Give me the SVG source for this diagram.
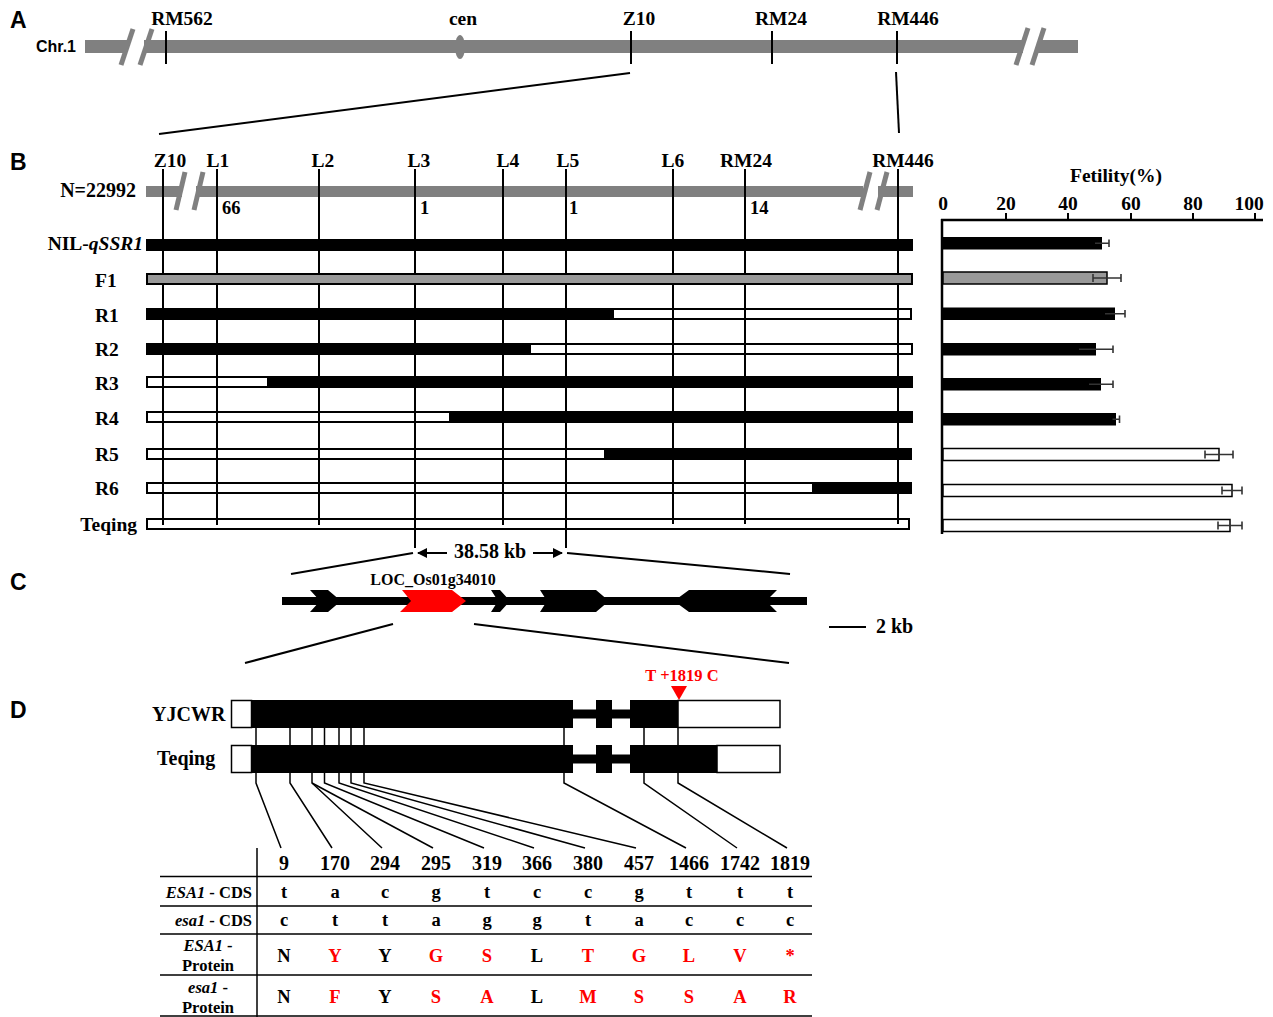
<svg xmlns="http://www.w3.org/2000/svg" width="1273" height="1017" viewBox="0 0 1273 1017">
<style>
.t{font-family:"Liberation Serif","Times New Roman",serif;font-weight:bold;fill:#000}
.s{font-family:"Liberation Sans",Arial,sans-serif;font-weight:bold;fill:#000}
.red{fill:#ff0000}
.k{stroke:#000;stroke-width:2;fill:none}
.g{fill:#808080}
.brk{stroke:#808080;stroke-width:5;fill:none}
.wb{fill:#fff;stroke:#000;stroke-width:2}
.eb{stroke:#333;stroke-width:1.6;fill:none}
.tl{stroke:#000;stroke-width:1.5;fill:none}
</style>
<defs>
<marker id="ah" markerWidth="10" markerHeight="10" refX="9" refY="5" orient="auto" markerUnits="userSpaceOnUse"><path d="M0,0 L10,5 L0,10 z" fill="#000"/></marker>
</defs>

<!-- Panel A -->
<g id="panelA">
<text class="s" x="10" y="28" font-size="23">A</text>
<text class="s" x="36" y="52" font-size="16">Chr.1</text>
<rect class="g" x="85" y="40" width="42" height="13"/>
<rect class="g" x="144" y="40" width="879" height="13"/>
<rect class="g" x="1038" y="40" width="40" height="13"/>
<line class="brk" x1="133" y1="29" x2="121" y2="65"/>
<line class="brk" x1="152" y1="29" x2="140" y2="65"/>
<line class="brk" x1="1028" y1="28" x2="1016" y2="65"/>
<line class="brk" x1="1044" y1="28" x2="1032" y2="65"/>
<ellipse class="g" cx="460" cy="47" rx="5" ry="12"/>
<line class="k" x1="166" y1="31" x2="166" y2="64"/>
<line class="k" x1="631" y1="31" x2="631" y2="64"/>
<line class="k" x1="772" y1="31" x2="772" y2="64"/>
<line class="k" x1="897" y1="31" x2="897" y2="64"/>
<text class="t" x="182" y="25" font-size="19.5" text-anchor="middle">RM562</text>
<text class="t" x="463" y="25" font-size="19.5" text-anchor="middle">cen</text>
<text class="t" x="639" y="25" font-size="19.5" text-anchor="middle">Z10</text>
<text class="t" x="781" y="25" font-size="19.5" text-anchor="middle">RM24</text>
<text class="t" x="908" y="25" font-size="19.5" text-anchor="middle">RM446</text>
</g>

<!-- Panel B map -->
<g id="panelB">
<text class="s" x="10" y="170" font-size="23">B</text>
<text class="t" x="170" y="167" font-size="19.5" text-anchor="middle">Z10</text>
<text class="t" x="218" y="167" font-size="19.5" text-anchor="middle">L1</text>
<text class="t" x="323" y="167" font-size="19.5" text-anchor="middle">L2</text>
<text class="t" x="419" y="167" font-size="19.5" text-anchor="middle">L3</text>
<text class="t" x="508" y="167" font-size="19.5" text-anchor="middle">L4</text>
<text class="t" x="568" y="167" font-size="19.5" text-anchor="middle">L5</text>
<text class="t" x="673" y="167" font-size="19.5" text-anchor="middle">L6</text>
<text class="t" x="746" y="167" font-size="19.5" text-anchor="middle">RM24</text>
<text class="t" x="903" y="167" font-size="19.5" text-anchor="middle">RM446</text>
<text class="t" x="136" y="197" font-size="20" text-anchor="end">N=22992</text>
<rect class="g" x="146" y="186" width="36" height="11"/>
<rect class="g" x="196" y="186" width="667" height="11"/>
<rect class="g" x="878" y="186" width="35" height="11"/>
<line class="brk" x1="185" y1="172" x2="176" y2="210"/>
<line class="brk" x1="203" y1="172" x2="194" y2="210"/>
<line class="brk" x1="870" y1="172" x2="860" y2="210"/>
<line class="brk" x1="887" y1="172" x2="877" y2="210"/>
<text class="t" x="222" y="214" font-size="18.5">66</text>
<text class="t" x="420" y="214" font-size="18.5">1</text>
<text class="t" x="569" y="214" font-size="18.5">1</text>
<text class="t" x="750" y="214" font-size="18.5">14</text>

<text class="t" x="143" y="250" font-size="19.5" text-anchor="end">NIL-<tspan font-style="italic">qSSR1</tspan></text>
<text class="t" x="95" y="287" font-size="19.5">F1</text>
<text class="t" x="95" y="322" font-size="19.5">R1</text>
<text class="t" x="95" y="356" font-size="19.5">R2</text>
<text class="t" x="95" y="390" font-size="19.5">R3</text>
<text class="t" x="95" y="425" font-size="19.5">R4</text>
<text class="t" x="95" y="461" font-size="19.5">R5</text>
<text class="t" x="95" y="495" font-size="19.5">R6</text>
<text class="t" x="137" y="531" font-size="19.5" text-anchor="end">Teqing</text>

<g id="rows-white">
<rect class="wb" x="147" y="309" width="764" height="10"/>
<rect class="wb" x="147" y="344" width="765" height="10"/>
<rect class="wb" x="147" y="377" width="765" height="10"/>
<rect class="wb" x="147" y="412" width="765" height="10"/>
<rect class="wb" x="147" y="449" width="764" height="10"/>
<rect class="wb" x="147" y="483" width="764" height="10"/>
<rect class="wb" x="147" y="519" width="762" height="10"/>
</g>
</g>

<g id="connectors">
<line class="k" x1="630" y1="73" x2="159" y2="134"/>
<line class="k" x1="896" y1="72" x2="899" y2="133"/>
<line class="k" x1="163" y1="169" x2="163" y2="525"/>
<line class="k" x1="217" y1="169" x2="217" y2="525"/>
<line class="k" x1="319" y1="169" x2="319" y2="525"/>
<line class="k" x1="415" y1="169" x2="415" y2="548"/>
<line class="k" x1="503" y1="169" x2="503" y2="525"/>
<line class="k" x1="566" y1="169" x2="566" y2="548"/>
<line class="k" x1="673" y1="169" x2="673" y2="524"/>
<line class="k" x1="745" y1="169" x2="745" y2="524"/>
<line class="k" x1="898" y1="169" x2="898" y2="524"/>
<!-- B to C -->
<line class="k" x1="413" y1="553" x2="291" y2="574"/>
<line class="k" x1="567" y1="553" x2="790" y2="574"/>
<!-- C to D -->
<line class="k" x1="393" y1="624" x2="245" y2="663"/>
<line class="k" x1="474" y1="624" x2="789" y2="663"/>
<!-- D gene connectors -->
<g class="tl">
<path d="M256 727V746M256 773V783L281 848"/>
<path d="M290 727V746M290 773V783L332 848"/>
<path d="M312 727V746M312 773V783L382 848"/>
<path d="M312 783L433 848"/>
<path d="M324.5 727V746M324.5 773V783L484 848"/>
<path d="M339 727V746M339 773V783L534 848"/>
<path d="M351 727V746M351 773V783L585 848"/>
<path d="M364 727V746M364 773V783L636 848"/>
<path d="M564 727V746M564 773V783L686 848"/>
<path d="M644 727V746M644 773V783L737 848"/>
<path d="M678 727V746M678 773V783L787 848"/>
</g>
</g>

<g id="rows-fill">
<rect x="146" y="239" width="767" height="12" fill="#000"/>
<rect x="147" y="274" width="765" height="10" fill="#999" stroke="#000" stroke-width="2"/>
<rect x="146" y="308" width="437" height="12" fill="#000"/>
<rect x="583" y="308" width="31" height="11" fill="#000"/>
<rect x="146" y="343" width="327" height="12" fill="#000"/>
<rect x="473" y="343" width="58" height="11" fill="#000"/>
<rect x="267" y="376" width="646" height="12" fill="#000"/>
<rect x="449" y="411" width="464" height="12" fill="#000"/>
<rect x="604" y="448" width="308" height="12" fill="#000"/>
<rect x="812" y="482" width="100" height="12" fill="#000"/>
</g>

<!-- Bar chart -->
<g id="chart">
<text class="t" x="1116" y="182" font-size="19.5" text-anchor="middle">Fetility(%)</text>
<g font-size="19.5" text-anchor="middle">
<text class="t" x="943" y="210">0</text>
<text class="t" x="1006" y="210">20</text>
<text class="t" x="1068" y="210">40</text>
<text class="t" x="1131" y="210">60</text>
<text class="t" x="1193" y="210">80</text>
<text class="t" x="1249" y="210">100</text>
</g>
<line x1="941" y1="220" x2="1263" y2="220" stroke="#000" stroke-width="2.5"/>
<line x1="942" y1="219" x2="942" y2="534" stroke="#000" stroke-width="2.5"/>
<path d="M1006 220V213M1068 220V213M1131 220V213M1193 220V213M1255 220V213" class="k"/>
<rect x="943" y="237" width="159" height="12.5" fill="#000"/>
<rect x="943" y="272" width="164" height="12" fill="#999" stroke="#000" stroke-width="1.5"/>
<rect x="943" y="307.5" width="172" height="12.5" fill="#000"/>
<rect x="943" y="343" width="153" height="12.5" fill="#000"/>
<rect x="943" y="378" width="158" height="12.5" fill="#000"/>
<rect x="943" y="413" width="173" height="12.5" fill="#000"/>
<rect x="943" y="448.5" width="276" height="12" fill="#fff" stroke="#000" stroke-width="1.5"/>
<rect x="943" y="484.5" width="289" height="12" fill="#fff" stroke="#000" stroke-width="1.5"/>
<rect x="943" y="519.5" width="287" height="12" fill="#fff" stroke="#000" stroke-width="1.5"/>
<g class="eb">
<path d="M1095 243.2H1109M1109 239.5V247"/>
<path d="M1093 278H1121M1093 274V282M1121 274V282"/>
<path d="M1105 313.7H1125M1125 310V317.5"/>
<path d="M1079 349.2H1113M1113 345.5V353"/>
<path d="M1089 384.2H1113M1113 380.5V388"/>
<path d="M1112.5 419.2H1119.5M1119.5 415.5V423"/>
<path d="M1205 454.5H1233M1205 450.5V458.5M1233 450.5V458.5"/>
<path d="M1222 490.5H1242M1222 486.5V494.5M1242 486.5V494.5"/>
<path d="M1218 525.5H1242M1218 521.5V529.5M1242 521.5V529.5"/>
</g>
</g>

<!-- Panel C -->
<g id="panelC">
<text class="s" x="10" y="590" font-size="23">C</text>
<line class="k" x1="447" y1="553" x2="418" y2="553" marker-end="url(#ah)"/>
<line class="k" x1="533" y1="553" x2="562" y2="553" marker-end="url(#ah)"/>
<text class="t" x="490" y="558" font-size="20" text-anchor="middle">38.58 kb</text>
<line x1="282" y1="601" x2="807" y2="601" stroke="#000" stroke-width="8"/>
<polygon points="310,590 328,590 341,601 328,612 310,612 320,601" fill="#000"/>
<polygon points="402,590 452,590 466,601 452,612 400,612 411,601" fill="#ff0000"/>
<polygon points="491,590 500,590 510,601 500,612 491,612 498,601" fill="#000"/>
<polygon points="540,590 596,590 609,601 596,612 540,612 547,601" fill="#000"/>
<polygon points="674,601 689,590 777,590 766,601 777,612 689,612" fill="#000"/>
<text class="t" x="433" y="585" font-size="16" text-anchor="middle">LOC_Os01g34010</text>
<line class="k" x1="829" y1="627" x2="866" y2="627"/>
<text class="t" x="876" y="633" font-size="20">2 kb</text>
</g>

<!-- Panel D -->
<g id="panelD">
<text class="s" x="10" y="718" font-size="23">D</text>
<text class="t" x="152" y="721" font-size="20">YJCWR</text>
<text class="t" x="157" y="765" font-size="20">Teqing</text>
<text class="t red" x="682" y="681" font-size="16.5" text-anchor="middle">T +1819 C</text>
<polygon points="671,686 687,686 679,700" fill="#ff0000"/>
<g id="yjcwr">
<rect x="231.5" y="700.5" width="20" height="27" fill="#fff" stroke="#000" stroke-width="1.5"/>
<rect x="678" y="700.5" width="102" height="27" fill="#fff" stroke="#000" stroke-width="1.5"/>
<rect x="251" y="700" width="322" height="28" fill="#000"/>
<rect x="573" y="709.5" width="57" height="9" fill="#000"/>
<rect x="596" y="700" width="16" height="28" fill="#000"/>
<rect x="630" y="700" width="48" height="28" fill="#000"/>
</g>
<g id="teqing">
<rect x="231.5" y="745.5" width="20" height="27" fill="#fff" stroke="#000" stroke-width="1.5"/>
<rect x="717" y="745.5" width="63" height="27" fill="#fff" stroke="#000" stroke-width="1.5"/>
<rect x="251" y="745" width="322" height="28" fill="#000"/>
<rect x="573" y="754.5" width="57" height="9" fill="#000"/>
<rect x="596" y="745" width="16" height="28" fill="#000"/>
<rect x="630" y="745" width="87" height="28" fill="#000"/>
</g>
</g>

<!-- Table -->
<g id="table">
<line class="tl" x1="257" y1="848" x2="257" y2="1017"/>
<path class="tl" d="M160 876.5H812M160 906H812M160 934H812M160 975H812M160 1016H812"/>
<g class="t" font-size="20" text-anchor="middle">
<text x="284" y="870">9</text><text x="335" y="870">170</text><text x="385" y="870">294</text><text x="436" y="870">295</text><text x="487" y="870">319</text><text x="537" y="870">366</text><text x="588" y="870">380</text><text x="639" y="870">457</text><text x="689" y="870">1466</text><text x="740" y="870">1742</text><text x="790" y="870">1819</text>
</g>
<g class="t" font-size="18.5" text-anchor="middle">
<text x="284" y="898">t</text><text x="335" y="898">a</text><text x="385" y="898">c</text><text x="436" y="898">g</text><text x="487" y="898">t</text><text x="537" y="898">c</text><text x="588" y="898">c</text><text x="639" y="898">g</text><text x="689" y="898">t</text><text x="740" y="898">t</text><text x="790" y="898">t</text>
<text x="284" y="926">c</text><text x="335" y="926">t</text><text x="385" y="926">t</text><text x="436" y="926">a</text><text x="487" y="926">g</text><text x="537" y="926">g</text><text x="588" y="926">t</text><text x="639" y="926">a</text><text x="689" y="926">c</text><text x="740" y="926">c</text><text x="790" y="926">c</text>
<text x="284" y="962">N</text><text class="t red" x="335" y="962">Y</text><text x="385" y="962">Y</text><text class="t red" x="436" y="962">G</text><text class="t red" x="487" y="962">S</text><text x="537" y="962">L</text><text class="t red" x="588" y="962">T</text><text class="t red" x="639" y="962">G</text><text class="t red" x="689" y="962">L</text><text class="t red" x="740" y="962">V</text><text class="t red" x="790" y="962">*</text>
<text x="284" y="1003">N</text><text class="t red" x="335" y="1003">F</text><text x="385" y="1003">Y</text><text class="t red" x="436" y="1003">S</text><text class="t red" x="487" y="1003">A</text><text x="537" y="1003">L</text><text class="t red" x="588" y="1003">M</text><text class="t red" x="639" y="1003">S</text><text class="t red" x="689" y="1003">S</text><text class="t red" x="740" y="1003">A</text><text class="t red" x="790" y="1003">R</text>
</g>
<g class="t" font-size="16.5">
<text x="252" y="898" text-anchor="end"><tspan font-style="italic">ESA1</tspan> - CDS</text>
<text x="252" y="926" text-anchor="end"><tspan font-style="italic">esa1</tspan>  - CDS</text>
<text x="208" y="951" text-anchor="middle"><tspan font-style="italic">ESA1</tspan> -</text>
<text x="208" y="971" text-anchor="middle">Protein</text>
<text x="208" y="993" text-anchor="middle"><tspan font-style="italic">esa1</tspan>  -</text>
<text x="208" y="1013" text-anchor="middle">Protein</text>
</g>
</g>
</svg>
